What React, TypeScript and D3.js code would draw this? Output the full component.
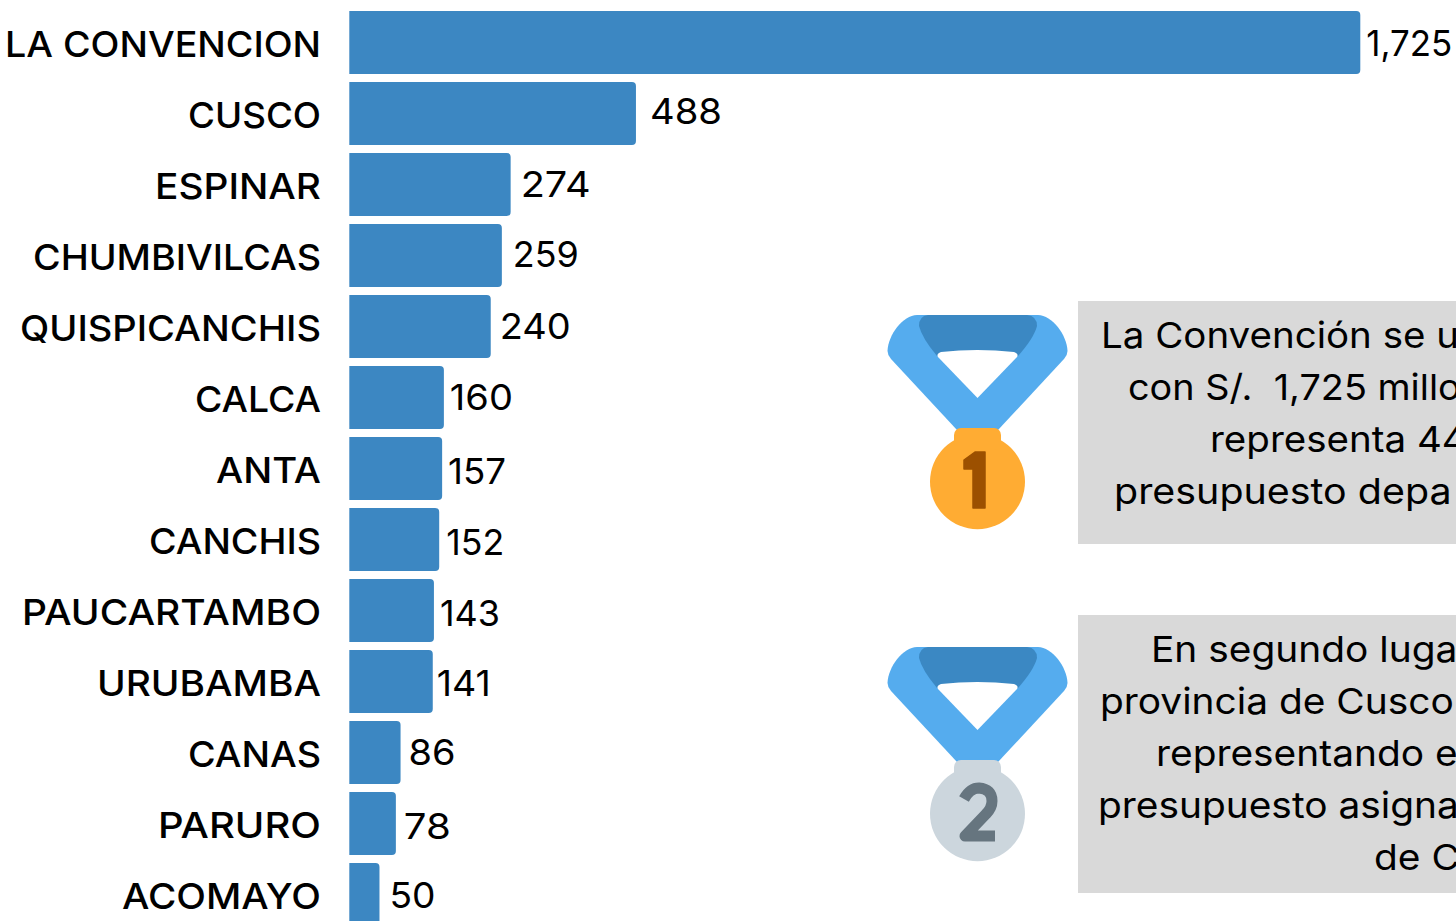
import React, { useMemo } from "react";
import * as d3 from "d3";

const provinces = ["LA CONVENCION", "CUSCO", "ESPINAR", "CHUMBIVILCAS", "QUISPICANCHIS", "CALCA", "ANTA", "CANCHIS", "PAUCARTAMBO", "URUBAMBA", "CANAS", "PARURO", "ACOMAYO"];
const budget = [1725, 488, 274, 259, 240, 160, 157, 152, 143, 141, 86, 78, 50];
const valueLabels = ["1,725", "488", "274", "259", "240", "160", "157", "152", "143", "141", "86", "78", "50"];

// the original font is wider than anything installed, so widths are fitted per label
const nameWidths = [316, 133, 166, 288, 301, 126, 105, 172, 299, 224, 133, 163, 199];
const valueWidths = [86, 72, 70, 66, 71, 63, 58, 58, 60, 54, 47, 47, 46];

// value labels were placed by hand in the original, so they sit a bit off the bar ends
const labelDx = [6, 14, 10, 11, 9, 6, 6, 7, 6, 4, 8, 8, 10];
const labelDy = [0, -3, -1, -2, -1, -1, 2, 2, 2, 1, -1, 2, 0];

const firstNote = ["La Convención se u", "con S/.  1,725 millo", "representa 44", "presupuesto depa"];
const firstNoteX = [1101, 1128, 1210, 1114];
const firstStretch = [1.07, 1.05, 1.07, 1.095];
const secondNote = ["En segundo luga", "provincia de Cusco", "representando e", "presupuesto asigna", "de C"];
const secondNoteX = [1151, 1100, 1156, 1098, 1374];
const secondStretch = 1.08;

const font = "Inter, 'Noto Sans', sans-serif";
const barLeft = 349.3;

// rect with only the right corners rounded
const barPath = (x0: number, x1: number, y0: number, h: number, r = 4) => {
    const p = d3.path();
    p.moveTo(x0, y0);
    p.lineTo(x1 - r, y0);
    p.arcTo(x1, y0, x1, y0 + r, r);
    p.lineTo(x1, y0 + h - r);
    p.arcTo(x1, y0 + h, x1 - r, y0 + h, r);
    p.lineTo(x0, y0 + h);
    p.closePath();
    return p.toString();
};

const Medal = ({ y, metal, digit, rank }: any) => (
    <g transform={`translate(870,${y})`}>
        <path
            d="M47 20 H168 C182 20 197 40 197.5 56 Q197.5 60 194 64 L128 135 H87 L21 64 Q17.5 60 17.5 56 C18 40 33 20 47 20 Z"
            fill="#55ACEE"
        />
        <path
            d="M58 20 H157 Q167 21 167 31 Q164 43 148 61 L67 61 Q52 43 49 31 Q49 21 58 20 Z"
            fill="#3B88C3"
        />
        <path
            d="M71 57 Q107 53 144 57 Q149 59 147 62 L107.5 103 L68 62 Q66 59 71 57 Z"
            fill="#fff"
        />
        <circle cx={107.5} cy={186.7} r={47.5} fill={metal} />
        <rect x={84} y={133} width={47} height={22} rx={7} fill={metal} />
        {rank === 1 ? (
            <path
                d="M94 165 L105 157 H115 V213 H103 V174 H94 Z"
                fill={digit}
                stroke={digit}
                strokeWidth={1.5}
                strokeLinejoin="round"
            />
        ) : (
            <path
                d="M94 172 Q100 161 109 161 Q122 162 122 174 Q122 181 116 187 L95 209 H125"
                fill="none"
                stroke={digit}
                strokeWidth={11}
                strokeLinejoin="round"
            />
        )}
    </g>
);

const NoteLine = ({ x, y, text, stretch }: any) => (
    <text
        transform={`translate(${x},${y}) scale(${stretch},1)`}
        fontSize={36}
        fill="#000"
        style={{ whiteSpace: "pre" }}
    >
        {text}
    </text>
);

export default function App() {
    const x = useMemo(() => d3.scaleLinear([0, 1725], [350.2, 1360.3]), []);
    const y = useMemo(
        () => d3.scaleBand(provinces, [11, 926]).paddingInner(8 / 71).paddingOuter(0),
        []
    );

    return (
        <svg
            width={1456}
            height={921}
            style={{ position: "fixed", top: 0, left: 0, display: "block", background: "#fff" }}
            fontFamily={font}
        >
            {provinces.map((d, i) => (
                <g key={d}>
                    <path d={barPath(barLeft, x(budget[i]), y(d)!, y.bandwidth())} fill="#3C87C2" />
                    <text
                        x={321}
                        y={y(d)! + y.bandwidth() / 2 + 14}
                        textAnchor="end"
                        fontSize={36}
                        fontWeight={500}
                        fill="#000"
                        textLength={nameWidths[i]}
                        lengthAdjust="spacingAndGlyphs"
                    >
                        {d}
                    </text>
                    <text
                        x={x(budget[i]) + labelDx[i]}
                        y={y(d)! + y.bandwidth() / 2 + 13 + labelDy[i]}
                        fontSize={36}
                        fill="#000"
                        textLength={valueWidths[i]}
                        lengthAdjust="spacingAndGlyphs"
                    >
                        {valueLabels[i]}
                    </text>
                </g>
            ))}

            <Medal y={295} metal="#FFAC33" digit="#9C5000" rank={1} />
            <Medal y={627} metal="#CCD6DD" digit="#66757F" rank={2} />

            <rect x={1078} y={301} width={378} height={243} fill="#D9D9D9" />
            {firstNote.map((t, i) => (
                <NoteLine key={t} x={firstNoteX[i]} y={348 + i * 52} text={t} stretch={firstStretch[i]} />
            ))}

            <rect x={1078} y={615} width={378} height={278} fill="#D9D9D9" />
            {secondNote.map((t, i) => (
                <NoteLine key={t} x={secondNoteX[i]} y={662 + i * 52} text={t} stretch={secondStretch} />
            ))}
        </svg>
    );
}
